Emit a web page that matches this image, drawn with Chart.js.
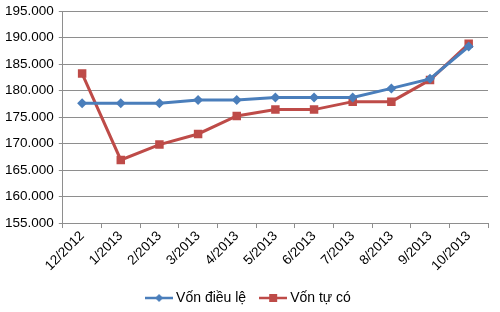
<!DOCTYPE html>
<html>
<head>
<meta charset="utf-8">
<script src="https://cdn.jsdelivr.net/npm/chart.js@4"></script>
<style>
  html, body { margin: 0; padding: 0; background: #fff; }
  #wrap { width: 500px; height: 312px; }
</style>
</head>
<body>
<div id="wrap"><canvas id="chart" width="500" height="312"></canvas></div>
<script>
// Data
const months = ['12/2012', '1/2013', '2/2013', '3/2013', '4/2013', '5/2013', '6/2013', '7/2013', '8/2013', '9/2013', '10/2013'];
const vonDieuLe = [177600, 177600, 177600, 178200, 178200, 178700, 178700, 178700, 180400, 182200, 188300];
const vonTuCo = [183200, 166900, 169800, 171800, 175200, 176400, 176400, 177900, 177900, 182000, 188800];
const yTicks = { min: 155000, max: 195000, step: 5000 };

const blue = '#4a7ebb';
const red = '#be4b48';
const gridColor = '#8e8e8e';

// legend swatch: short line with the marker on it
function swatch(color, shape) {
    const c = document.createElement('canvas');
    c.width = 28; c.height = 12;
    const ctx = c.getContext('2d');
    ctx.strokeStyle = color;
    ctx.lineWidth = 2.5;
    ctx.beginPath();
    ctx.moveTo(0, 6); ctx.lineTo(28, 6);
    ctx.stroke();
    ctx.fillStyle = color;
    if (shape === 'diamond') {
        ctx.beginPath();
        ctx.moveTo(14, 2); ctx.lineTo(18, 6); ctx.lineTo(14, 10); ctx.lineTo(10, 6);
        ctx.closePath();
        ctx.fill();
    } else {
        ctx.fillRect(10, 2, 8, 8);
    }
    return c;
}

const font = { family: '"Liberation Sans", Arial, sans-serif', size: 13.5 };
const legendFont = { family: '"Liberation Sans", Arial, sans-serif', size: 14 };

new Chart(document.getElementById('chart').getContext('2d'), {
    type: 'line',
    data: {
        labels: months,
        datasets: [
            {
                label: 'Vốn điều lệ',
                data: vonDieuLe,
                borderColor: blue,
                backgroundColor: blue,
                borderWidth: 3,
                pointStyle: 'rectRot',
                pointRadius: 5,
                pointHoverRadius: 5,
                pointBorderWidth: 0,
                tension: 0
            },
            {
                label: 'Vốn tự có',
                data: vonTuCo,
                borderColor: red,
                backgroundColor: red,
                borderWidth: 3,
                pointStyle: 'rect',
                pointRadius: 6,
                pointHoverRadius: 6,
                pointBorderWidth: 0,
                tension: 0
            }
        ]
    },
    options: {
        responsive: false,
        animation: false,
        layout: { padding: { top: 0, right: 0, left: 0, bottom: -3 } },
        scales: {
            x: {
                offset: true,
                afterFit: (axis) => { axis.paddingRight = 12; },
                grid: {
                    display: true,
                    drawOnChartArea: false,
                    drawTicks: true,
                    tickLength: 5,
                    offset: true,
                    color: gridColor
                },
                border: { color: gridColor, width: 1 },
                ticks: {
                    color: '#000',
                    font: font,
                    minRotation: 45,
                    maxRotation: 45,
                    padding: 0
                }
            },
            y: {
                min: yTicks.min,
                max: yTicks.max,
                afterFit: (axis) => { axis.paddingTop = 11; },
                grid: {
                    color: gridColor,
                    tickLength: 4,
                    lineWidth: 1
                },
                border: { color: gridColor, width: 1 },
                ticks: {
                    stepSize: yTicks.step,
                    color: '#000',
                    font: font,
                    padding: 5,
                    callback: (value) => value.toLocaleString('de-DE')
                }
            }
        },
        plugins: {
            legend: {
                position: 'bottom',
                labels: {
                    color: '#000',
                    font: legendFont,
                    usePointStyle: true,
                    pointStyleWidth: 20,
                    padding: 17,
                    generateLabels: (chart) => chart.data.datasets.map((ds, i) => ({
                        text: ds.label,
                        fontColor: '#000',
                        pointStyle: swatch(ds.borderColor, i === 0 ? 'diamond' : 'square'),
                        datasetIndex: i,
                        hidden: false,
                        lineWidth: 0
                    }))
                }
            },
            tooltip: { enabled: false }
        }
    }
});
</script>
</body>
</html>
